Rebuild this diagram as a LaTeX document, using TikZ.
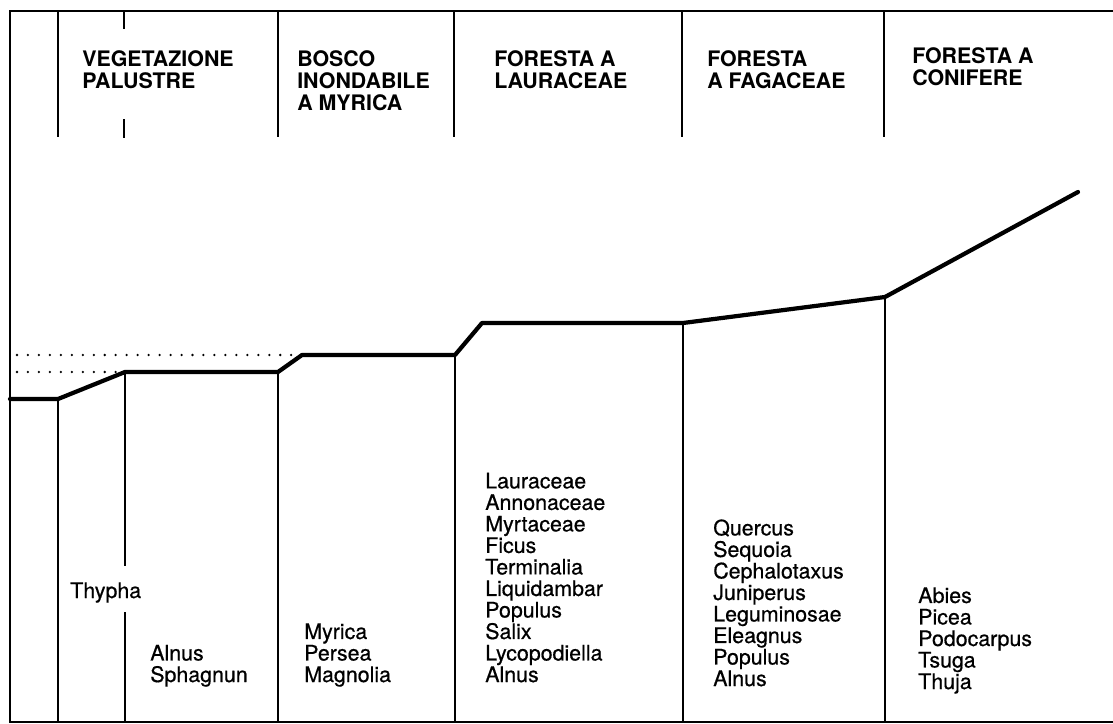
\documentclass[tikz,border=0pt]{standalone}
\usepackage{fontspec}
\setmainfont{TeX Gyre Heros}
\newfontfamily\taxafont[FakeBold=0.6]{TeX Gyre Heros}
\usepackage{tikz}
\usetikzlibrary{positioning}

\begin{document}
\begin{tikzpicture}[
  x=0.025cm, y=-0.025cm,
  frame/.style={line width=2pt},
  sep/.style={line width=1.3pt},
  profile/.style={line width=3pt, line join=round, line cap=round},
  level/.style={line width=1.8pt, line cap=round, dash pattern=on 0pt off 7.8pt},
  head/.style={anchor=base west, inner sep=0pt, align=left, font=\fontsize{15.2}{15.6}\selectfont\bfseries},
  taxa/.style={anchor=base west, inner sep=0pt, align=left, font=\taxafont\fontsize{15.2}{15.3}\selectfont}
]
\useasboundingbox (0,0) rectangle (1113,724);

% Outer frame
\draw[frame] (1113,11) -- (10,11) -- (10,722) -- (1113,722);

% Header row (nodes sit on their last baseline)
\foreach \x in {58,278,454,682,884}
  \draw[sep] (\x,11) -- (\x,137);
\draw[sep] (124,11) -- (124,29);
\draw[sep] (124,119) -- (124,138);

\node[head] (palustre) at (82,88) {VEGETAZIONE\\PALUSTRE};
\node[head] (myricahd) at (297,110) {BOSCO\\INONDABILE\\A MYRICA};
\node[head] (laurahd) at (494,88) {FORESTA A\\LAURACEAE};
\node[head] (fagahd) at (707,88) {FORESTA\\A FAGACEAE};
\node[head] (conifhd) at (912,85) {FORESTA A\\CONIFERE};

% Ground profile
\draw[profile] (10,399) -- (58,399) -- (125,372) -- (278,372) -- (302,355)
  -- (455,355) -- (482,323) -- (683,323) -- (885,297) -- (1078,192);

% Former levels
\draw[level] (17,355) -- (300,355);
\draw[level] (17,372) -- (121,372);

% Belt boundaries
\foreach \x/\y in {58/399, 278/372, 455/355, 683/323, 885/297}
  \draw[sep] (\x,\y) -- (\x,722);
\draw[sep] (125,372) -- (125,566);
\draw[sep] (125,612) -- (125,722);

% Taxa
\node[taxa] (thypha) at (70,598) {Thypha};
\node[taxa] (alnus) at (150,682) {Alnus\\Sphagnun};
\node[taxa] (myrica) at (304,682) {Myrica\\Persea\\Magnolia};
\node[taxa] (lauri) at (485,682) {Lauraceae\\Annonaceae\\Myrtaceae\\Ficus\\Terminalia\\Liquidambar\\Populus\\Salix\\Lycopodiella\\Alnus};
\node[taxa] (fagi) at (713,686) {Quercus\\Sequoia\\Cephalotaxus\\Juniperus\\Leguminosae\\Eleagnus\\Populus\\Alnus};
\node[taxa] (conif) at (918,689) {Abies\\Picea\\Podocarpus\\Tsuga\\Thuja};

\end{tikzpicture}
\end{document}
